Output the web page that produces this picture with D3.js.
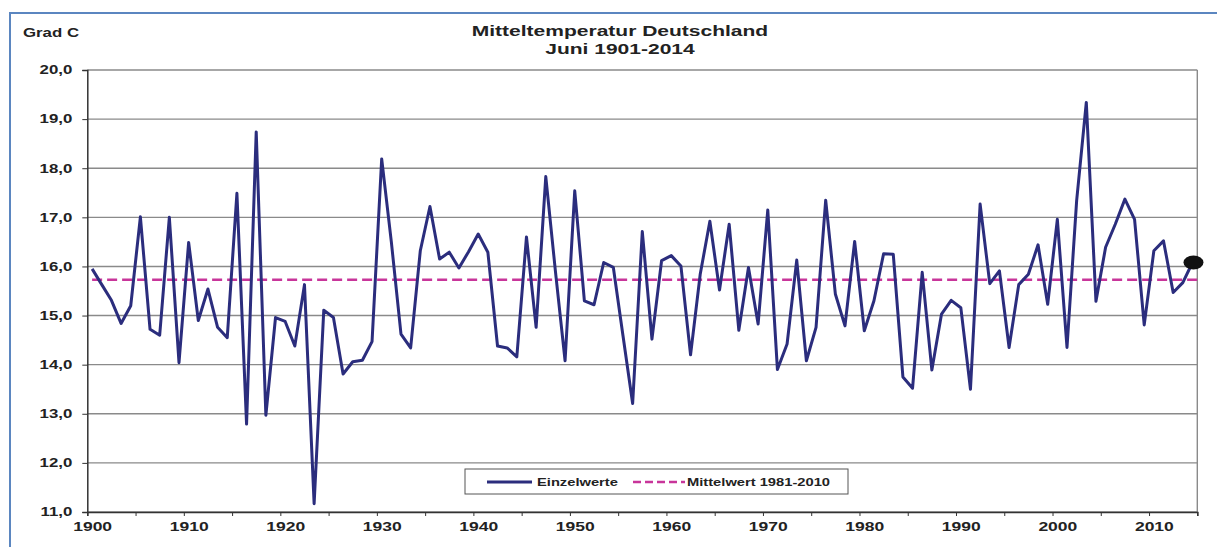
<!DOCTYPE html>
<html>
<head>
<meta charset="utf-8">
<script src="https://cdn.jsdelivr.net/npm/d3@7"></script>
<style>
  body { margin: 0; background: #fff; }
  svg text { font-family: "Liberation Sans", Arial, sans-serif; font-weight: bold; fill: #222; }
</style>
</head>
<body>
<div id="chart"></div>
<script>
// June mean temperature, one value per year
var years = d3.range(1900, 2015);
var temps = [
  15.95, 15.63, 15.31, 14.84, 15.20, 17.01, 14.72, 14.60, 17.00, 14.04,
  16.49, 14.90, 15.54, 14.76, 14.55, 17.49, 12.79, 18.74, 12.97, 14.96,
  14.88, 14.38, 15.63, 11.17, 15.11, 14.96, 13.81, 14.06, 14.09, 14.47,
  18.19, 16.50, 14.62, 14.34, 16.32, 17.22, 16.15, 16.29, 15.97, 16.30,
  16.66, 16.29, 14.38, 14.34, 14.16, 16.60, 14.76, 17.83, 15.90, 14.08,
  17.54, 15.30, 15.22, 16.08, 15.98, 14.59, 13.21, 16.71, 14.52, 16.12,
  16.22, 16.01, 14.20, 15.84, 16.92, 15.52, 16.86, 14.70, 15.98, 14.83,
  17.15, 13.90, 14.42, 16.13, 14.08, 14.76, 17.35, 15.44, 14.79, 16.51,
  14.69, 15.30, 16.26, 16.25, 13.75, 13.52, 15.88, 13.89, 15.03, 15.31,
  15.16, 13.50, 17.27, 15.65, 15.91, 14.35, 15.63, 15.84, 16.44, 15.23,
  16.96, 14.35, 17.34, 19.34, 15.29, 16.39, 16.86, 17.37, 16.96, 14.81,
  16.32, 16.52, 15.47, 15.67, 16.08
];
var meanValue = 15.73; // Mittelwert 1981-2010
var yTicks = d3.range(11, 21);
var xTicks = d3.range(1900, 2016, 5);
var seriesNames = ["Einzelwerte", "Mittelwert 1981-2010"];

var width = 1217, height = 547;
var plotLeft = 87.3, plotRight = 1197.3, plotTop = 70, plotBottom = 512;
var stretchX = 1.4; // the original text is wide

// widen text horizontally, keeps its anchor
function stretch(sel) {
  sel.each(function() {
    var w = this.getComputedTextLength();
    d3.select(this)
      .attr('textLength', w * stretchX)
      .attr('lengthAdjust', 'spacingAndGlyphs');
  });
}

var svg = d3.select('#chart')
  .append('svg')
  .attr('width', width)
  .attr('height', height);

// outer frame
svg.append('rect')
  .attr('x', 10).attr('y', 13)
  .attr('width', width + 20).attr('height', height + 20)
  .attr('fill', 'none')
  .attr('stroke', '#5b86c0')
  .attr('stroke-width', 2);

var x = d3.scaleLinear().domain([1900, 2015]).range([plotLeft, plotRight]);
var y = d3.scaleLinear().domain([11, 20]).range([plotBottom, plotTop]);

// grid
svg.append('g')
  .selectAll('line')
  .data(yTicks)
  .enter().append('line')
  .attr('x1', plotLeft).attr('x2', plotRight)
  .attr('y1', function(d) { return y(d); })
  .attr('y2', function(d) { return y(d); })
  .attr('stroke', '#8a8a8a')
  .attr('stroke-width', 1.4);

// right border
svg.append('line')
  .attr('x1', plotRight).attr('x2', plotRight)
  .attr('y1', plotTop).attr('y2', plotBottom)
  .attr('stroke', '#8a8a8a')
  .attr('stroke-width', 1.4);

// y axis
var yAxis = svg.append('g')
  .attr('transform', 'translate(' + plotLeft + ',0)')
  .call(d3.axisLeft(y).tickValues(yTicks).tickSize(5).tickPadding(10)
    .tickFormat(function(d) { return d3.format('.1f')(d).replace('.', ','); }));
yAxis.select('.domain').attr('stroke', '#333').attr('stroke-width', 1.5);
yAxis.selectAll('line').attr('stroke', '#333');
yAxis.selectAll('text').attr('font-size', 12).attr('fill', '#222').call(stretch);

// x axis
var xAxis = svg.append('g')
  .attr('transform', 'translate(0,' + plotBottom + ')')
  .call(d3.axisBottom(x).tickValues(xTicks).tickSize(4).tickPadding(6)
    .tickFormat(function(d) { return (d % 10 === 0 && d <= 2010) ? d : ''; }));
xAxis.select('.domain').attr('stroke', '#333').attr('stroke-width', 1.5);
xAxis.selectAll('line').attr('stroke', '#333');
xAxis.selectAll('text')
  .attr('font-size', 12.5).attr('fill', '#222')
  .attr('x', x(1900.5) - x(1900))
  .call(stretch);

// mean line
svg.append('line')
  .attr('x1', x(years[0] + 0.5)).attr('x2', x(2015))
  .attr('y1', y(meanValue)).attr('y2', y(meanValue))
  .attr('stroke', '#c8359a')
  .attr('stroke-width', 2.5)
  .attr('stroke-dasharray', '10,5');

// single values
var line = d3.line()
  .x(function(d, i) { return x(years[i] + 0.5); })
  .y(function(d) { return y(d); });

svg.append('path')
  .datum(temps)
  .attr('d', line)
  .attr('fill', 'none')
  .attr('stroke', '#2b2d7d')
  .attr('stroke-width', 3)
  .attr('stroke-linejoin', 'round');

// last value marker
var last = temps.length - 1;
svg.append('ellipse')
  .attr('cx', x(years[last] + 0.5) + 1)
  .attr('cy', y(temps[last]))
  .attr('rx', 10).attr('ry', 7)
  .attr('fill', '#111');

// titles
svg.append('text').attr('x', 23).attr('y', 37).attr('font-size', 12).text('Grad C').call(stretch);
svg.append('text').attr('x', 620).attr('y', 36).attr('text-anchor', 'middle')
  .attr('font-size', 15).text('Mitteltemperatur Deutschland').call(stretch);
svg.append('text').attr('x', 620).attr('y', 54).attr('text-anchor', 'middle')
  .attr('font-size', 15).text('Juni 1901-2014').call(stretch);

// legend
var legend = svg.append('g');
legend.append('rect')
  .attr('x', 465).attr('y', 469).attr('width', 383).attr('height', 25)
  .attr('fill', '#fff').attr('stroke', '#555').attr('stroke-width', 1);
legend.append('line')
  .attr('x1', 487).attr('x2', 532).attr('y1', 482).attr('y2', 482)
  .attr('stroke', '#2b2d7d').attr('stroke-width', 3);
legend.append('text').attr('x', 537).attr('y', 486).attr('font-size', 10.5)
  .text(seriesNames[0]).call(stretch);
legend.append('line')
  .attr('x1', 633).attr('x2', 685).attr('y1', 482).attr('y2', 482)
  .attr('stroke', '#c8359a').attr('stroke-width', 2.5).attr('stroke-dasharray', '8,4');
legend.append('text').attr('x', 687).attr('y', 486).attr('font-size', 10.5)
  .text(seriesNames[1]).call(stretch);
</script>
</body>
</html>
